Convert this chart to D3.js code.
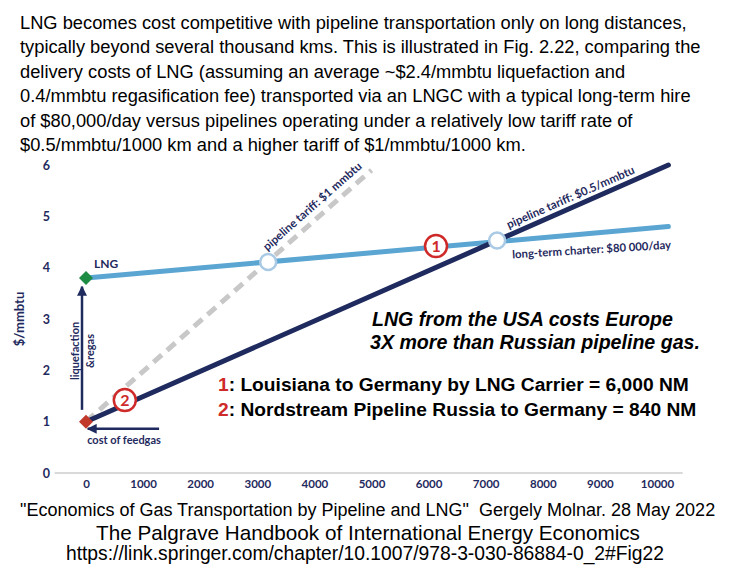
<!DOCTYPE html>
<html>
<head>
<meta charset="utf-8">
<script src="https://cdn.jsdelivr.net/npm/d3@7"></script>
<style>
  body { margin: 0; background: #fff; }
</style>
</head>
<body>
<svg id="chart" width="736" height="582"></svg>
<script>
// text around the chart
const introLines = [
  "LNG becomes cost competitive with pipeline transportation only on long distances,",
  "typically beyond several thousand kms. This is illustrated in Fig. 2.22, comparing the",
  "delivery costs of LNG (assuming an average ~$2.4/mmbtu liquefaction and",
  "0.4/mmbtu regasification fee) transported via an LNGC with a typical long-term hire",
  "of $80,000/day versus pipelines operating under a relatively low tariff rate of",
  "$0.5/mmbtu/1000 km and a higher tariff of $1/mmbtu/1000 km."
];
const sourceLines = [
  "\"Economics of Gas Transportation by Pipeline and LNG\"  Gergely Molnar. 28 May 2022",
  "The Palgrave Handbook of International Energy Economics",
  "https://link.springer.com/chapter/10.1007/978-3-030-86884-0_2#Fig22"
];

// axes
const xTicks = [0, 1000, 2000, 3000, 4000, 5000, 6000, 7000, 8000, 9000, 10000];
const yTicks = [0, 1, 2, 3, 4, 5, 6];

// cost lines, km vs $/mmbtu
const lngCost = [{ km: 0, v: 3.8 }, { km: 10200, v: 4.8 }];
const pipeLow = [{ km: 0, v: 1.0 }, { km: 10200, v: 6.0 }];
const pipeHigh = [{ km: 0, v: 1.0 }, { km: 5000, v: 5.9 }];
const crossings = [{ km: 3190, v: 4.11 }, { km: 7200, v: 4.53 }];
const routes = [{ n: "1", km: 6130, v: 4.42 }, { n: "2", km: 680, v: 1.42 }];

const navy = "#1f2a5e", lightBlue = "#5aa5d1", grey = "#c8c8c8", red = "#cf2a2a";
const chartFont = "Lato, 'Open Sans', sans-serif";
const arial = "'Liberation Sans', Arial, sans-serif";

const svg = d3.select("#chart");

// intro paragraph
svg.append("g").selectAll("text")
  .data(introLines)
  .join("text")
  .attr("x", 20)
  .attr("y", (d, i) => 29 + i * 24.4)
  .attr("font-family", arial)
  .attr("font-size", 18.3)
  .attr("fill", "#000")
  .text(d => d);

var x = d3.scaleLinear().domain([0, 10000]).range([86, 657]);
var y = d3.scaleLinear().domain([0, 6]).range([473, 165]);

// baseline
svg.append("line")
  .attr("x1", x(-550)).attr("x2", x(10450))
  .attr("y1", y(0)).attr("y2", y(0))
  .attr("stroke", "#d9d9d9").attr("stroke-width", 2);

var xAxis = g => g
  .attr("transform", `translate(0,${y(0)})`)
  .call(d3.axisBottom(x).tickValues(xTicks).tickSize(0).tickPadding(7).tickFormat(d3.format("d")))
  .call(g => g.select(".domain").remove());

var yAxis = g => g
  .attr("transform", `translate(50,0)`)
  .call(d3.axisLeft(y).tickValues(yTicks).tickSize(0).tickPadding(0).tickFormat(d3.format("d")))
  .call(g => g.select(".domain").remove());

svg.append("g").call(xAxis);
svg.append("g").call(yAxis).selectAll("text").attr("data-y", 1);
svg.selectAll(".tick text")
  .attr("font-family", chartFont)
  .attr("font-weight", "bold")
  .attr("font-size", 11.5)
  .attr("fill", navy);
svg.selectAll("text[data-y]").attr("font-size", 12.5);

svg.append("text")
  .attr("transform", `translate(24,${y(3)}) rotate(-90)`)
  .attr("text-anchor", "middle")
  .attr("font-family", chartFont)
  .attr("font-weight", "bold")
  .attr("font-size", 13)
  .attr("fill", navy)
  .text("$/mmbtu");

var line = d3.line().x(d => x(d.km)).y(d => y(d.v));

svg.append("path").datum(pipeHigh)
  .attr("fill", "none").attr("stroke", grey).attr("stroke-width", 5)
  .attr("stroke-dasharray", "11,7")
  .attr("d", line);

svg.append("path").datum(lngCost)
  .attr("fill", "none").attr("stroke", lightBlue).attr("stroke-width", 5)
  .attr("stroke-linecap", "round")
  .attr("d", line);

svg.append("path").datum(pipeLow)
  .attr("fill", "none").attr("stroke", navy).attr("stroke-width", 5)
  .attr("stroke-linecap", "round")
  .attr("d", line);

svg.selectAll(".cross")
  .data(crossings)
  .join("circle")
  .attr("class", "cross")
  .attr("cx", d => x(d.km)).attr("cy", d => y(d.v))
  .attr("r", 8)
  .attr("fill", "#fff")
  .attr("stroke", "#a9c9e5").attr("stroke-width", 2.5);

// arrows
svg.append("defs").append("marker")
  .attr("id", "head")
  .attr("viewBox", "0 0 10 10")
  .attr("refX", 9).attr("refY", 5)
  .attr("markerWidth", 4).attr("markerHeight", 4)
  .attr("orient", "auto")
  .append("path").attr("d", "M0,0L10,5L0,10Z").attr("fill", navy);

svg.append("line")
  .attr("x1", x(-70)).attr("x2", x(-70))
  .attr("y1", y(1.23)).attr("y2", y(3.63))
  .attr("stroke", navy).attr("stroke-width", 2.5)
  .attr("marker-end", "url(#head)");

svg.append("line")
  .attr("x1", x(1280)).attr("x2", x(30))
  .attr("y1", y(0.86)).attr("y2", y(0.86))
  .attr("stroke", navy).attr("stroke-width", 2.5)
  .attr("marker-end", "url(#head)");

// end markers
var diamond = d3.symbol().type(d3.symbolDiamond2).size(125);
svg.append("path")
  .attr("transform", `translate(${x(0)},${y(1)})`)
  .attr("d", diamond).attr("fill", "#c0392b");
svg.append("path")
  .attr("transform", `translate(${x(0)},${y(3.8)})`)
  .attr("d", diamond).attr("fill", "#1e8c45");

// chart labels
var label = (sel, size) => sel
  .attr("font-family", chartFont)
  .attr("font-weight", "bold")
  .attr("font-size", size)
  .attr("fill", navy);

svg.append("text").attr("x", 94).attr("y", 268).call(label, 12).text("LNG");
svg.append("text").attr("x", 124).attr("y", 444).attr("text-anchor", "middle")
  .call(label, 11).text("cost of feedgas");
svg.append("text")
  .attr("transform", `translate(79,380) rotate(-90)`)
  .call(label, 11).text("liquefaction");
svg.append("text")
  .attr("transform", `translate(94,368) rotate(-90)`)
  .call(label, 11).text("&regas");

function slope(data) {
  var a = data[0], b = data[data.length - 1];
  return Math.atan2(y(b.v) - y(a.v), x(b.km) - x(a.km)) * 180 / Math.PI;
}
function along(data, km) {
  var a = data[0], b = data[data.length - 1];
  return a.v + (b.v - a.v) * (km - a.km) / (b.km - a.km);
}

svg.append("text")
  .attr("transform", `translate(${x(3190)},${y(along(pipeHigh, 3190))}) rotate(${slope(pipeHigh)}) translate(6,-8)`)
  .call(label, 11.5).text("pipeline tariff: $1 mmbtu");

svg.append("text")
  .attr("transform", `translate(${x(7350)},${y(along(pipeLow, 7350))}) rotate(${slope(pipeLow)}) translate(6,-6)`)
  .call(label, 11.5).text("pipeline tariff: $0.5/mmbtu");

svg.append("text")
  .attr("transform", `translate(${x(7450)},${y(along(lngCost, 7450))}) rotate(${slope(lngCost) * 0.7}) translate(0,18)`)
  .call(label, 11.3).text("long-term charter: $80 000/day");

// numbered routes
var badge = svg.selectAll(".route")
  .data(routes)
  .join("g")
  .attr("class", "route")
  .attr("transform", d => `translate(${x(d.km)},${y(d.v)})`);
badge.append("circle").attr("r", 11)
  .attr("fill", "#fff").attr("stroke", red).attr("stroke-width", 2.5);
badge.append("text").attr("text-anchor", "middle").attr("dy", "0.36em")
  .attr("font-family", chartFont).attr("font-size", 16).attr("font-weight", "bold")
  .attr("fill", red).text(d => d.n);

// annotation
svg.append("text")
  .attr("font-family", arial).attr("font-size", 19.6)
  .attr("font-weight", "bold").attr("font-style", "italic")
  .selectAll("tspan")
  .data(["LNG from the USA costs Europe", "3X more than Russian pipeline gas."])
  .join("tspan")
  .attr("x", (d, i) => i ? 370 : 372)
  .attr("y", (d, i) => 326 + i * 23)
  .text(d => d);

var notes = [
  { n: "1", t: ": Louisiana to Germany by LNG Carrier = 6,000 NM" },
  { n: "2", t: ": Nordstream Pipeline Russia to Germany = 840 NM" }
];
var note = svg.selectAll(".note")
  .data(notes)
  .join("text")
  .attr("class", "note")
  .attr("x", 218)
  .attr("y", (d, i) => 391 + i * 25)
  .attr("font-family", arial).attr("font-size", 19.2).attr("font-weight", "bold");
note.append("tspan").attr("fill", red).text(d => d.n);
note.append("tspan").attr("fill", "#000").text(d => d.t);

// source
svg.append("text").attr("x", 20).attr("y", 516)
  .attr("font-family", arial).attr("font-size", 18).attr("xml:space", "preserve").text(sourceLines[0]);
svg.append("text").attr("x", 368).attr("y", 540).attr("text-anchor", "middle")
  .attr("font-family", arial).attr("font-size", 20.7).text(sourceLines[1]);
svg.append("text").attr("x", 365).attr("y", 560).attr("text-anchor", "middle")
  .attr("font-family", arial).attr("font-size", 19.3).text(sourceLines[2]);
</script>
</body>
</html>
